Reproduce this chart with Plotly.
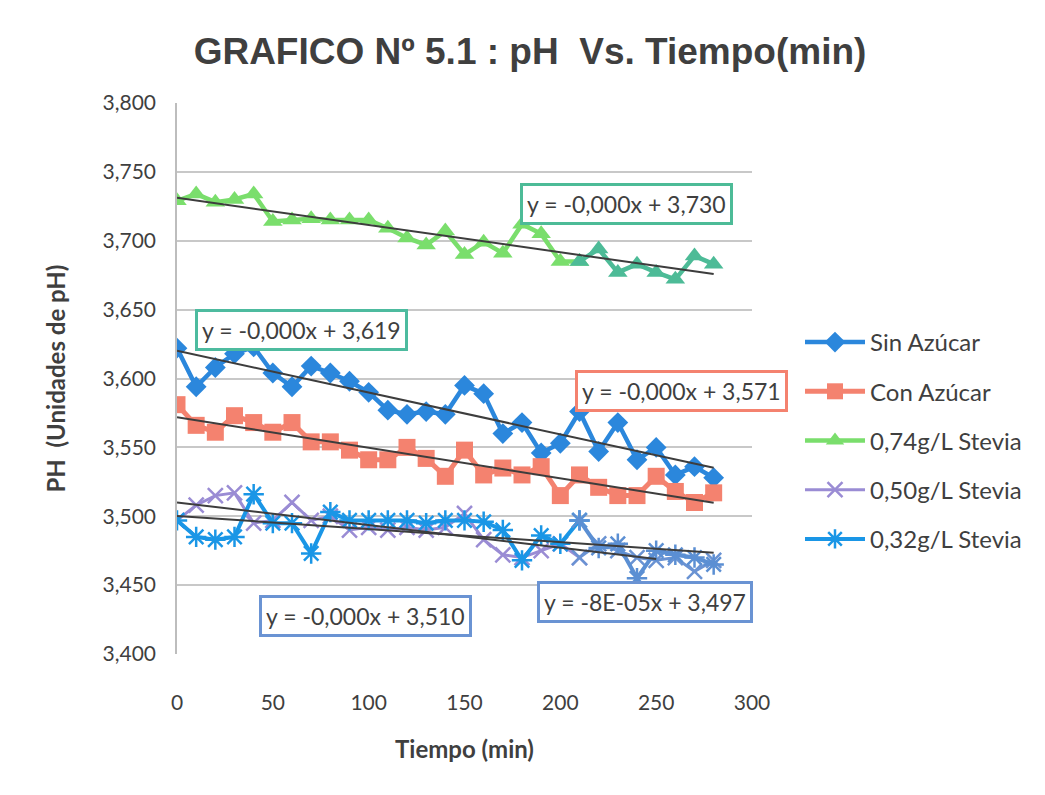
import numpy as np
import plotly.graph_objects as go

# ---------------- data ----------------
tiempo = [0, 10, 20, 30, 40, 50, 60, 70, 80, 90, 100, 110, 120, 130, 140,
          150, 160, 170, 180, 190, 200, 210, 220, 230, 240, 250, 260, 270, 280]

sin_azucar = [3.622, 3.594, 3.608, 3.618, 3.623, 3.604, 3.594, 3.609, 3.604, 3.598,
              3.590, 3.577, 3.574, 3.576, 3.574, 3.595, 3.589, 3.560, 3.568, 3.546,
              3.553, 3.576, 3.547, 3.568, 3.541, 3.550, 3.530, 3.536, 3.528]

con_azucar = [3.581, 3.566, 3.561, 3.573, 3.568, 3.561, 3.568, 3.554, 3.554, 3.548,
              3.541, 3.541, 3.550, 3.542, 3.529, 3.548, 3.530, 3.535, 3.530, 3.536,
              3.515, 3.530, 3.521, 3.515, 3.515, 3.529, 3.518, 3.510, 3.517]

stevia_074 = [3.729, 3.734, 3.728, 3.730, 3.734, 3.714, 3.715, 3.716, 3.715, 3.715,
              3.715, 3.709, 3.702, 3.697, 3.707, 3.690, 3.699, 3.691, 3.712, 3.705,
              3.685, 3.685, 3.694, 3.677, 3.683, 3.677, 3.672, 3.689, 3.683]

stevia_050 = [3.497, 3.508, 3.515, 3.517, 3.495, 3.497, 3.510, 3.497, 3.500, 3.490,
              3.492, 3.490, 3.492, 3.490, 3.492, 3.502, 3.483, 3.472, 3.470, 3.475,
              3.480, 3.470, 3.480, 3.475, 3.470, 3.468, 3.470, 3.460, 3.468]

stevia_032 = [3.497, 3.485, 3.483, 3.485, 3.516, 3.495, 3.495, 3.473, 3.503, 3.497,
              3.497, 3.497, 3.497, 3.495, 3.497, 3.497, 3.496, 3.490, 3.468, 3.486,
              3.480, 3.497, 3.477, 3.480, 3.455, 3.475, 3.472, 3.470, 3.465]

series_names = ["Sin Azúcar", "Con Azúcar", "0,74g/L Stevia", "0,50g/L Stevia", "0,32g/L Stevia"]
series_values = [sin_azucar, con_azucar, stevia_074, stevia_050, stevia_032]

equation_labels = ["y = -0,000x + 3,619", "y = -0,000x + 3,571", "y = -0,000x + 3,730",
                   "y = -0,000x + 3,510", "y = -8E-05x + 3,497"]
trend_x_end = [280, 280, 280, 250, 280]

y_ticks = [3.40, 3.45, 3.50, 3.55, 3.60, 3.65, 3.70, 3.75, 3.80]
y_tick_text = ["3,400", "3,450", "3,500", "3,550", "3,600", "3,650", "3,700", "3,750", "3,800"]
x_ticks = [0, 50, 100, 150, 200, 250, 300]

# ---------------- styles ----------------
colors = ["#2b87dc", "#f4826f", "#7ade6c", "#9a8cd4", "#1a96e6"]
late_colors = ["#2b87dc", "#f4826f", "#4dbb97", "#6a93d3", "#5b8fd3"]  # scan tint on right part
split_at = 210
symbols = ["diamond", "square", "triangle-up", "x-thin", "asterisk"]
msizes = [16, 17, 17, 15, 17]
lwidths = [4.5, 5, 4.5, 3, 4]
box_colors = ["#4dbb9f", "#f4826f", "#4dbb97", "#6a93d3", "#6a93d3"]
box_pos = [(64.7, 3.6352), (263.0, 3.5909), (234.3, 3.7267), (98.1, 3.4276), (244.2, 3.4378)]

FONT = "Lato"
TXT = "#3f3f3f"

fig = go.Figure()

def marker_for(i, col):
    if symbols[i] in ("x-thin", "asterisk"):
        return dict(symbol=symbols[i], size=msizes[i], color=col, line=dict(color=col, width=2.5))
    return dict(symbol=symbols[i], size=msizes[i], color=col)

for i, (name, vals) in enumerate(zip(series_names, series_values)):
    if colors[i] == late_colors[i]:
        fig.add_trace(go.Scatter(x=tiempo, y=vals, name=name, mode="lines+markers",
                                 line=dict(color=colors[i], width=lwidths[i]),
                                 marker=marker_for(i, colors[i]), legendgroup=name))
    else:
        k = tiempo.index(split_at)
        fig.add_trace(go.Scatter(x=tiempo[:k + 1], y=vals[:k + 1], name=name, mode="lines+markers",
                                 line=dict(color=colors[i], width=lwidths[i]),
                                 marker=marker_for(i, colors[i]), legendgroup=name))
        fig.add_trace(go.Scatter(x=tiempo[k:], y=vals[k:], name=name, mode="lines+markers",
                                 line=dict(color=late_colors[i], width=lwidths[i]),
                                 marker=marker_for(i, late_colors[i]), legendgroup=name,
                                 showlegend=False))

# trendlines (least squares)
for i, vals in enumerate(series_values):
    m, b = np.polyfit(tiempo, vals, 1)
    xs = [tiempo[0], trend_x_end[i]]
    fig.add_trace(go.Scatter(x=xs, y=[m * x + b for x in xs], mode="lines",
                             line=dict(color="#3d3d3d", width=2), showlegend=False,
                             hoverinfo="skip"))

annotations = []
for i, lab in enumerate(equation_labels):
    annotations.append(dict(x=box_pos[i][0], y=box_pos[i][1], xref="x", yref="y",
                            text=lab, showarrow=False,
                            font=dict(family=FONT, size=23, color=TXT),
                            bgcolor="white", bordercolor=box_colors[i], borderwidth=3,
                            borderpad=4))

annotations.append(dict(text="<b>PH  (Unidades de pH)</b>", xref="paper", yref="paper",
                        x=0, y=0.5, xshift=-122, textangle=-90, showarrow=False,
                        xanchor="center", yanchor="middle",
                        font=dict(family=FONT, size=24, color=TXT)))
annotations.append(dict(text="<b>Tiempo (min)</b>", xref="paper", yref="paper",
                        x=0.5, y=0, yshift=-94, showarrow=False,
                        xanchor="center", yanchor="middle",
                        font=dict(family=FONT, size=24, color=TXT)))

fig.update_layout(
    width=1045, height=795,
    margin=dict(l=177, r=293, t=103, b=141),
    paper_bgcolor="white", plot_bgcolor="white",
    title=dict(text="<b>GRAFICO Nº 5.1 : pH  Vs. Tiempo(min)</b>",
               x=530 / 1045, xanchor="center", y=1 - 51 / 795, yanchor="middle",
               font=dict(family="Liberation Sans, Arial", size=37, color=TXT)),
    xaxis=dict(range=[0, 300], tickvals=x_ticks, showgrid=False, zeroline=False,
               showline=False, ticks="outside", ticklen=30, tickcolor="rgba(0,0,0,0)",
               tickfont=dict(family=FONT, size=21, color=TXT)),
    yaxis=dict(range=[3.4, 3.8], tickvals=y_ticks, ticktext=y_tick_text,
               showgrid=True, gridcolor="#c8c8c8", gridwidth=1.5, zeroline=False,
               showline=True, linecolor="#bdbdbd", linewidth=1.5,
               ticks="outside", ticklen=15, tickcolor="rgba(0,0,0,0)",
               tickfont=dict(family=FONT, size=21, color=TXT)),
    legend=dict(x=(800 - 177) / 575, y=(654 - 320) / 551, xanchor="left", yanchor="top",
                font=dict(family=FONT, size=24, color=TXT), itemwidth=60,
                tracegroupgap=15, bgcolor="rgba(0,0,0,0)"),
    annotations=annotations,
    showlegend=True,
)

fig.write_html("out.html")
